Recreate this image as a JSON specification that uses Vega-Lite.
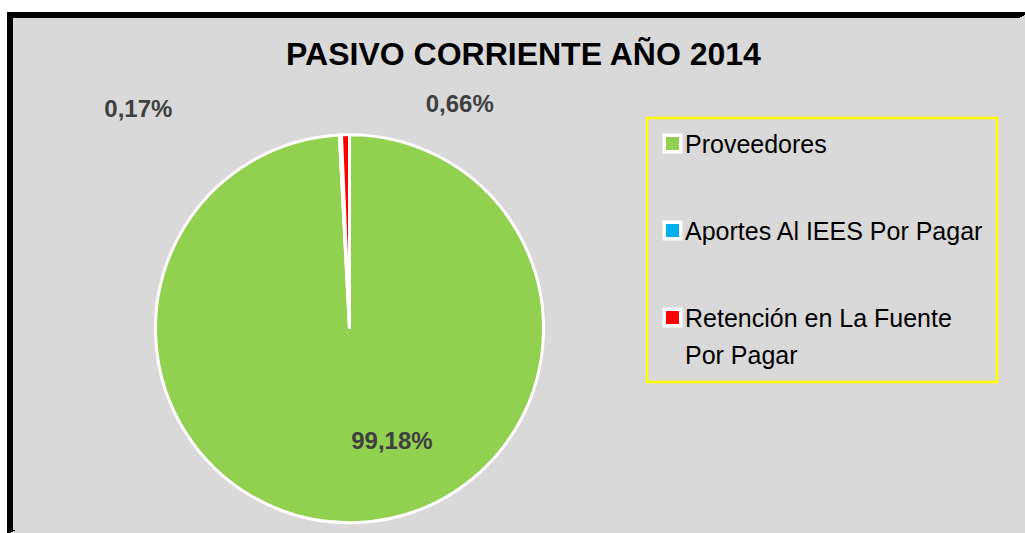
{
  "$schema": "https://vega.github.io/schema/vega-lite/v6.json",
  "width": 1015,
  "height": 518,
  "autosize": {"type": "none"},
  "padding": {"left": 10, "top": 15, "right": 0, "bottom": 0},
  "background": "white",
  "view": {
    "fill": "#d9d9d9",
    "strokeWidth": 6,
    "stroke": {
      "gradient": "linear",
      "x1": 0, "y1": 0, "x2": 1, "y2": 1,
      "stops": [
        {"offset": 0, "color": "#000000"},
        {"offset": 0.5, "color": "#000000"},
        {"offset": 0.5, "color": "#d9d9d9"},
        {"offset": 1, "color": "#d9d9d9"}
      ]
    }
  },
  "title": {
    "text": "PASIVO CORRIENTE AÑO 2014",
    "font": "Liberation Sans",
    "fontSize": 32,
    "fontWeight": "bold",
    "color": "black",
    "anchor": "middle",
    "frame": "group",
    "baseline": "alphabetic",
    "offset": 0,
    "dy": 82,
    "dx": 6
  },
  "data": {
    "values": [
      {"categoria": "Proveedores", "orden": 1, "pct": 0.9918},
      {"categoria": "Aportes Al IEES Por Pagar", "orden": 2, "pct": 0.0017},
      {"categoria": "Retención en La Fuente Por Pagar", "orden": 3, "pct": 0.0066}
    ]
  },
  "encoding": {
    "theta": {"field": "pct", "type": "quantitative", "stack": true},
    "order": {"field": "orden", "type": "quantitative"},
    "color": {
      "field": "categoria",
      "type": "nominal",
      "scale": {
        "domain": ["Proveedores", "Aportes Al IEES Por Pagar", "Retención en La Fuente Por Pagar"],
        "range": ["#92d050", "#00b0f0", "#ff0000"]
      },
      "legend": {
        "orient": "none",
        "legendX": 637,
        "legendY": 103,
        "title": null,
        "symbolType": "square",
        "symbolSize": 272,
        "symbolStrokeColor": "white",
        "symbolStrokeWidth": 3.5,
        "labelFont": "Liberation Sans",
        "labelFontSize": 25,
        "labelColor": "black",
        "labelLimit": 500,
        "labelOffset": 0,
        "labelBaseline": "alphabetic",
        "labelLineHeight": 37,
        "rowPadding": 56,
        "padding": 13,
        "strokeColor": "#ffff00",
        "labelExpr": "datum.label == 'Retención en La Fuente Por Pagar' ? ['Retención en La Fuente', 'Por Pagar'] : datum.label",
        "encode": {"labels": {"update": {"dy": {"value": 9}, "lineHeight": {"value": 37}}}}
      }
    }
  },
  "layer": [
    {
      "mark": {"type": "arc", "x": 339.5, "y": 313.7, "radius": 194, "stroke": "white", "strokeWidth": 3}
    },
    {
      "mark": {"type": "text", "x": 339.5, "y": 313.7, "radius": 113, "dx": 39.5, "dy": 0, "font": "Liberation Sans", "fontSize": 24, "fontWeight": "bold", "align": "center", "baseline": "middle"},
      "encoding": {
        "color": {"value": "#404040"},
        "text": {"condition": {"test": "datum.categoria === 'Proveedores'", "field": "pct", "type": "quantitative", "format": ".2%"}, "value": ""}
      }
    },
    {
      "mark": {"type": "text", "x": 339.5, "y": 313.7, "radius": 230, "dx": -200.4, "dy": 11.5, "font": "Liberation Sans", "fontSize": 24, "fontWeight": "bold", "align": "center", "baseline": "middle"},
      "encoding": {
        "color": {"value": "#404040"},
        "text": {"condition": {"test": "datum.categoria === 'Aportes Al IEES Por Pagar'", "field": "pct", "type": "quantitative", "format": ".2%"}, "value": ""}
      }
    },
    {
      "mark": {"type": "text", "x": 339.5, "y": 313.7, "radius": 230, "dx": 115, "dy": 6, "font": "Liberation Sans", "fontSize": 24, "fontWeight": "bold", "align": "center", "baseline": "middle"},
      "encoding": {
        "color": {"value": "#404040"},
        "text": {"condition": {"test": "datum.categoria === 'Retención en La Fuente Por Pagar'", "field": "pct", "type": "quantitative", "format": ".2%"}, "value": ""}
      }
    }
  ],
  "config": {
    "legend": {"strokeWidth": 2.5},
    "locale": {"number": {"decimal": ",", "thousands": ".", "grouping": [3], "currency": ["$", ""]}}
  }
}
